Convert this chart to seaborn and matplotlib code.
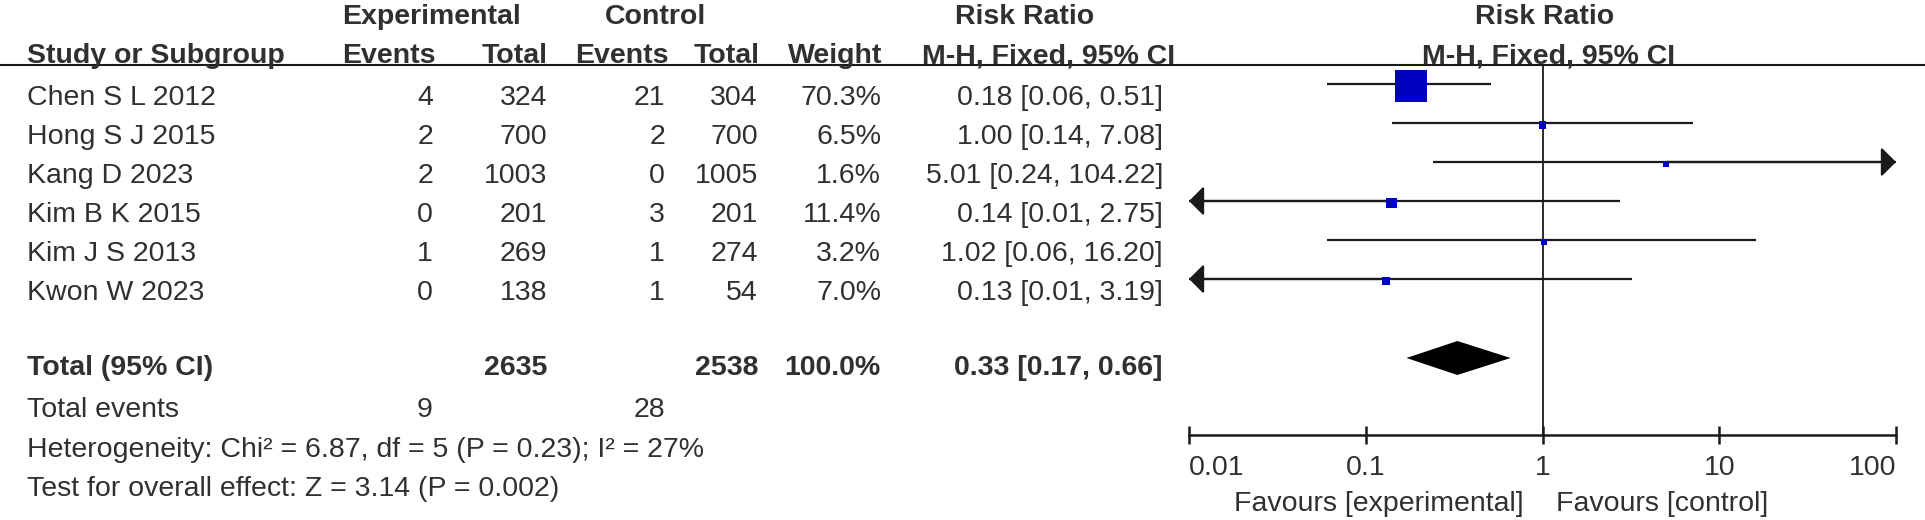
import numpy as np
import pandas as pd
import matplotlib
matplotlib.use('Agg')
import matplotlib.pyplot as plt
import seaborn as sns

# study level data
studies = ['Chen S L 2012', 'Hong S J 2015', 'Kang D 2023', 'Kim B K 2015', 'Kim J S 2013', 'Kwon W 2023']
exp_events = [4, 2, 2, 0, 1, 0]
exp_total = [324, 700, 1003, 201, 269, 138]
ctl_events = [21, 2, 0, 3, 1, 1]
ctl_total = [304, 700, 1005, 201, 274, 54]
weights = [70.3, 6.5, 1.6, 11.4, 3.2, 7.0]
rr = [0.18, 1.00, 5.01, 0.14, 1.02, 0.13]
rr_lo = [0.06, 0.14, 0.24, 0.01, 0.06, 0.01]
rr_hi = [0.51, 7.08, 104.22, 2.75, 16.20, 3.19]

# pooled result
tot_exp_total = 2635
tot_ctl_total = 2538
tot_weight = 100.0
tot_rr = 0.33
tot_lo = 0.17
tot_hi = 0.66
tot_exp_events = 9
tot_ctl_events = 28
het_text = 'Heterogeneity: Chi² = 6.87, df = 5 (P = 0.23); I² = 27%'
overall_text = 'Test for overall effect: Z = 3.14 (P = 0.002)'

x_ticks = [0.01, 0.1, 1, 10, 100]
x_tick_labels = ['0.01', '0.1', '1', '10', '100']
favours_left = 'Favours [experimental]'
favours_right = 'Favours [control]'

df = pd.DataFrame({'study': studies, 'rr': rr, 'lo': rr_lo, 'hi': rr_hi, 'weight': weights})

sns.set_style('white')
plt.rcParams['font.family'] = ['Liberation Sans', 'DejaVu Sans']

TXT = '#303030'
LINE = '#1a1a1a'
BLUE = '#0000C4'
FS = 20.5

W, H = 1925, 520
fig = plt.figure(figsize=(W / 100, H / 100), dpi=100)

# base axes in pixel coordinates for the table
base = fig.add_axes([0, 0, 1, 1])
base.set_xlim(0, W)
base.set_ylim(H, 0)
base.axis('off')

# forest axes: 0.01 .. 100 on log scale
x0, x1 = 1189, 1896
ax = fig.add_axes([x0 / W, 0, (x1 - x0) / W, 1])
ax.set_xscale('log')
ax.set_xlim(0.01, 100)
ax.set_ylim(H, 0)
ax.patch.set_alpha(0)
for s in ['top', 'left', 'right']:
    ax.spines[s].set_visible(False)
ax.set_yticks([])

# row layout
row_base = [105 + 39 * i for i in range(len(studies))]
row_mark = [b - 21 for b in row_base]
tot_base = 375
axis_y = 435


def t(x, y, s, ha='left', bold=False, **kw):
    base.text(x, y, s, ha=ha, va='baseline', fontsize=FS, color=TXT,
              fontweight='bold' if bold else 'normal', **kw)


# header
t(432, 24, 'Experimental', ha='center', bold=True)
t(655, 24, 'Control', ha='center', bold=True)
t(1025, 24, 'Risk Ratio', ha='center', bold=True)
t(1545, 24, 'Risk Ratio', ha='center', bold=True)
t(27, 63, 'Study or Subgroup', bold=True)
t(436, 63, 'Events', ha='right', bold=True)
t(548, 63, 'Total', ha='right', bold=True)
t(669, 63, 'Events', ha='right', bold=True)
t(760, 63, 'Total', ha='right', bold=True)
t(882, 63, 'Weight', ha='right', bold=True)
t(1049, 63, 'M-H, Fixed, 95% CI', ha='center', bold=True)
t(1549, 63, 'M-H, Fixed, 95% CI', ha='center', bold=True)
base.plot([0, W], [65, 65], color=LINE, lw=1.5, solid_capstyle='butt')

# study rows
for i, r in df.iterrows():
    y = row_base[i]
    t(27, y, r['study'])
    t(433, y, str(exp_events[i]), ha='right')
    t(547, y, str(exp_total[i]), ha='right')
    t(665, y, str(ctl_events[i]), ha='right')
    t(758, y, str(ctl_total[i]), ha='right')
    t(881, y, f"{r['weight']:.1f}%", ha='right')
    t(1163, y, f"{r['rr']:.2f} [{r['lo']:.2f}, {r['hi']:.2f}]", ha='right')

# totals
t(27, tot_base, 'Total (95% CI)', bold=True)
t(547, tot_base, str(tot_exp_total), ha='right', bold=True)
t(758, tot_base, str(tot_ctl_total), ha='right', bold=True)
t(881, tot_base, f'{tot_weight:.1f}%', ha='right', bold=True)
t(1163, tot_base, f'{tot_rr:.2f} [{tot_lo:.2f}, {tot_hi:.2f}]', ha='right', bold=True)
t(27, 417, 'Total events')
t(433, 417, str(tot_exp_events), ha='right')
t(665, 417, str(tot_ctl_events), ha='right')
t(27, 457, het_text)
t(27, 496, overall_text)

# confidence intervals, arrows where they run off the scale
lo_lim, hi_lim = x_ticks[0], x_ticks[-1]
for i, r in df.iterrows():
    y = row_mark[i]
    lo = max(r['lo'], lo_lim)
    hi = min(r['hi'], hi_lim)
    ax.plot([lo, hi], [y, y], color=LINE, lw=1.6, solid_capstyle='butt', clip_on=False)
    arrow = dict(arrowstyle='-|>,head_length=0.45,head_width=0.45', color=LINE,
                 lw=1.6, shrinkA=0, shrinkB=0, mutation_scale=20)
    if r['lo'] <= lo_lim:
        ax.annotate('', xy=(lo_lim, y), xytext=(r['rr'], y), arrowprops=arrow,
                    annotation_clip=False)
    if r['hi'] >= hi_lim:
        ax.annotate('', xy=(hi_lim, y), xytext=(r['rr'], y), arrowprops=arrow,
                    annotation_clip=False)

# weighted squares
side_px = np.maximum(5.5, 32 * (df['weight'] / df['weight'].max()) ** 0.62)
size_map = {w: (sp * 0.72) ** 2 for w, sp in zip(df['weight'], side_px)}
plot_df = df.assign(ypos=[m + 2 for m in row_mark])
sns.scatterplot(data=plot_df, x='rr', y='ypos', size='weight', sizes=size_map,
                marker='s', color=BLUE, linewidth=0, legend=False, ax=ax, zorder=5,
                clip_on=False)
ax.set_xlabel('')
ax.set_ylabel('')

# pooled diamond
dm = tot_base - 17
ax.fill([tot_lo, tot_rr, tot_hi, tot_rr], [dm, dm - 17, dm, dm + 17], color='black', lw=0)

# line of no effect
ax.plot([1, 1], [66, axis_y], color=LINE, lw=1.3, clip_on=False)

# x axis
ax.spines['bottom'].set_position(('data', axis_y))
ax.spines['bottom'].set_color(LINE)
ax.spines['bottom'].set_linewidth(1.8)
ax.set_xticks(x_ticks)
ax.set_xticks([], minor=True)
ax.tick_params(axis='x', which='major', bottom=True, direction='inout', length=13,
               width=1.8, color=LINE, labelbottom=False)
for k, (xv, lab) in enumerate(zip(x_ticks, x_tick_labels)):
    ha = 'left' if k == 0 else ('right' if k == len(x_ticks) - 1 else 'center')
    ax.text(xv, 475, lab, ha=ha, va='baseline', fontsize=FS, color=TXT)

t(1524, 511, favours_left, ha='right')
t(1556, 511, favours_right)

fig.savefig('out.png', dpi=100, facecolor='white')
